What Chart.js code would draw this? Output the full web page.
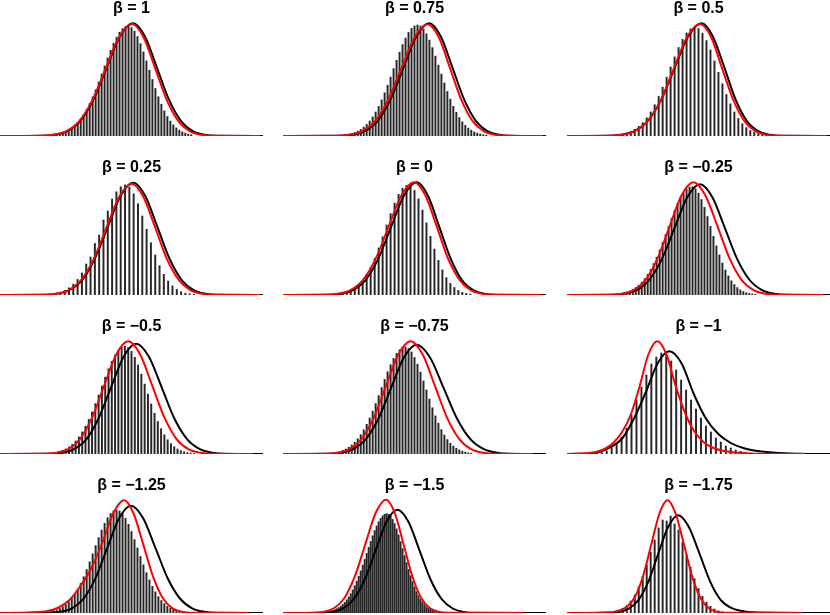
<!DOCTYPE html>
<html>
<head>
<meta charset="utf-8">
<script src="https://cdn.jsdelivr.net/npm/chart.js@4.4.1/dist/chart.umd.min.js"></script>
<style>
  html, body { margin: 0; padding: 0; background: #fff; }
  body { width: 830px; height: 615px; position: relative; overflow: hidden; }
  .panel { position: absolute; width: 263px; height: 139px; }
</style>
</head>
<body>
<script>
// one panel per beta, read row by row
const betaLabels = ['β = 1', 'β = 0.75', 'β = 0.5', 'β = 0.25', 'β = 0', 'β = −0.25',
  'β = −0.5', 'β = −0.75', 'β = −1', 'β = −1.25', 'β = −1.5', 'β = −1.75'];

// upper end of the count axis in each panel
const xMax = [88, 88, 66, 61, 66, 88, 80, 88, 53, 88, 132, 66];

// first count that has a bar, then the bar heights
const barFirst = [18, 20, 12, 11, 13, 16, 15, 15, 6, 15, 20, 11];
const barHeights = [
  [1.1, 1.6, 2.3, 3.2, 4.4, 6.0, 7.9, 10.4, 13.5, 17.2, 21.6, 26.7, 32.5, 39.1, 46.2, 53.9, 61.8, 70.0, 78.0, 85.7, 92.7, 98.8, 103.8, 107.3, 109.5, 110, 108.4, 104.8, 99.4, 92.3, 84.1, 75.1, 65.8, 56.5, 47.5, 39.2, 31.7, 25.1, 19.5, 14.9, 11.1, 8.1, 5.8, 4.1, 2.8, 1.9, 1.3],
  [0.8, 1.2, 1.8, 2.5, 3.5, 4.9, 6.6, 8.9, 11.6, 15.0, 19.1, 24.0, 29.6, 36.1, 43.2, 50.8, 58.9, 67.4, 75.7, 83.8, 91.4, 97.9, 103.5, 107.6, 110.1, 111, 110.0, 107.0, 102.2, 95.9, 88.4, 79.9, 70.9, 61.9, 53.0, 44.5, 36.8, 29.7, 23.7, 18.5, 14.2, 10.7, 7.9, 5.8, 4.1, 2.9, 2.0, 1.3, 0.9],
  [0.8, 1.3, 2.0, 3.1, 4.6, 6.7, 9.6, 13.4, 18.2, 24.1, 31.3, 39.6, 48.8, 58.8, 69.0, 79.1, 88.5, 96.6, 103.1, 107.1, 108.7, 107.4, 102.8, 95.4, 86.0, 75.1, 63.6, 52.2, 41.5, 32.2, 24.0, 17.5, 12.3, 8.4, 5.5, 3.6, 2.2, 1.3, 0.8],
  [0.6, 1.0, 1.8, 2.9, 4.7, 7.2, 10.8, 15.6, 22.0, 31.0, 38.0, 51.5, 60.0, 75.0, 84.0, 96.0, 103.2, 108.2, 110, 107.8, 101.2, 91.3, 79.0, 65.7, 52.3, 40.0, 29.3, 20.6, 13.9, 9.1, 5.6, 3.3, 1.9, 1.1, 0.6],
  [0.6, 1.0, 1.7, 2.7, 4.4, 6.7, 10.1, 14.6, 20.5, 27.8, 36.7, 47.0, 58.2, 70.0, 81.4, 91.9, 100.6, 106.7, 109.7, 109.2, 104.5, 96.1, 84.9, 72.1, 58.7, 46.0, 34.7, 25.1, 17.4, 11.6, 7.5, 4.6, 2.7, 1.6, 0.8],
  [0.7, 1.0, 1.4, 2.1, 2.9, 4.0, 5.5, 7.4, 9.8, 12.8, 16.3, 20.6, 25.6, 31.4, 37.8, 45.0, 52.6, 60.5, 68.7, 76.7, 84.4, 91.4, 97.5, 102.4, 105.9, 107.9, 108.2, 106.2, 101.9, 95.5, 87.6, 78.4, 68.6, 58.7, 49.1, 40.1, 32.0, 25.0, 19.1, 14.2, 10.4, 7.4, 5.1, 3.5, 2.3, 1.5, 1.0, 0.6],
  [0.8, 1.1, 1.7, 2.5, 3.6, 5.1, 7.1, 9.7, 13.0, 17.1, 22.1, 27.9, 34.6, 42.1, 50.4, 59.1, 68.0, 76.8, 85.2, 92.7, 99.0, 103.7, 106.7, 107.7, 106.4, 102.6, 96.7, 89.0, 79.8, 69.9, 59.9, 50.1, 40.8, 32.5, 25.3, 19.2, 14.2, 10.3, 7.3, 5.0, 3.4, 2.2, 1.4, 0.9, 0.5],
  [0.6, 0.9, 1.3, 1.8, 2.6, 3.6, 5.0, 6.8, 9.0, 11.8, 15.2, 19.4, 24.2, 29.7, 36.1, 43.0, 50.5, 58.4, 66.5, 74.6, 82.3, 89.3, 95.6, 100.7, 104.3, 106.5, 107.0, 105.5, 102.0, 96.6, 89.8, 81.9, 73.1, 64.0, 54.9, 46.2, 38.1, 30.8, 24.4, 19.0, 14.4, 10.8, 7.9, 5.7, 4.0, 2.8, 1.9, 1.2, 0.8],
  [0.5, 1.5, 3, 6, 11, 17, 26, 39, 54, 67, 79, 90, 97, 101, 99, 93, 84, 74, 64, 54, 45, 36, 28, 22, 16, 12, 8, 6, 4, 2.7, 1.8, 1.1, 0.6],
  [0.7, 1.0, 1.5, 2.3, 3.2, 4.5, 6.3, 8.4, 11.2, 14.6, 18.8, 23.8, 29.6, 36.2, 43.4, 51.1, 59.2, 67.4, 75.4, 82.9, 89.7, 95.3, 99.5, 102.1, 103, 102.0, 99.2, 94.7, 88.7, 81.5, 73.4, 65.1, 56.5, 48.2, 40.3, 33.1, 26.7, 21.1, 16.4, 12.5, 9.3, 6.8, 4.9, 3.5, 2.4, 1.6, 1.1, 0.7],
  [0.6, 0.8, 1.1, 1.4, 1.9, 2.5, 3.3, 4.3, 5.4, 6.9, 8.6, 10.7, 13.1, 16.0, 19.3, 23.0, 27.2, 31.8, 36.7, 42.1, 47.8, 53.6, 59.6, 65.6, 71.5, 77.2, 82.4, 87.2, 91.3, 94.6, 97.1, 98.7, 99.3, 98.7, 96.8, 93.7, 89.4, 84.1, 78.1, 71.4, 64.4, 57.4, 50.4, 43.6, 37.3, 31.4, 26.1, 21.4, 17.3, 13.7, 10.8, 8.4, 6.4, 4.8, 3.6, 2.6, 1.9, 1.4, 1.0, 0.7],
  [0.7, 1.4, 2.5, 4.4, 7.5, 11.9, 18.1, 26.3, 36.5, 48.2, 60.8, 73.1, 85, 93, 92, 97, 89, 83, 70.6, 58.2, 45.8, 34.3, 24.5, 16.7, 10.9, 6.7, 4.0, 2.2, 1.2, 0.6]
];

// black curve
const blackX = [
  [0, 13.7, 18.1, 22.5, 26.9, 31.3, 35.7, 40.1, 44.5, 48.5, 52.5, 56.5, 60.5, 64.5, 68.5, 72.5, 88],
  [0, 18.8, 23.1, 27.4, 31.7, 36.0, 40.3, 44.6, 48.9, 52.8, 56.7, 60.6, 64.5, 68.4, 72.3, 76.2, 88],
  [0, 10.2, 13.55, 16.9, 20.3, 23.7, 27.05, 30.4, 33.8, 36.6, 39.5, 42.3, 45.1, 48.0, 50.8, 53.6, 66],
  [0, 10.2, 13.2, 16.1, 19.1, 22.0, 25.0, 27.95, 30.9, 33.7, 36.5, 39.3, 42.1, 44.9, 47.7, 50.5, 61],
  [0, 11.15, 14.35, 17.55, 20.75, 23.95, 27.15, 30.35, 33.55, 36.35, 39.2, 42.05, 44.85, 47.75, 50.55, 53.35, 66],
  [0, 14.75, 19.0, 23.25, 27.5, 31.75, 36.0, 40.25, 44.5, 48.65, 52.8, 56.95, 61.1, 65.25, 69.4, 73.55, 88],
  [0, 14.9, 18.7, 22.5, 26.3, 30.0, 33.8, 37.6, 41.4, 45.3, 49.15, 53.0, 56.9, 60.8, 64.65, 68.5, 80],
  [0, 14.95, 19.2, 23.45, 27.7, 31.95, 36.2, 40.45, 44.7, 49.2, 53.7, 58.2, 62.7, 67.2, 71.7, 76.2, 88],
  [0, 4.15, 6.5, 8.85, 11.2, 13.55, 15.9, 18.25, 20.6, 23.1, 25.55, 28.05, 30.5, 33.0, 35.5, 38.0, 42, 47, 53],
  [0, 16.15, 20.1, 24.05, 28.0, 31.95, 35.9, 39.85, 43.8, 47.9, 52.0, 56.1, 60.2, 64.3, 68.4, 72.5, 88],
  [0, 19.25, 24.7, 30.15, 35.6, 41.05, 46.5, 51.95, 57.4, 62.95, 68.5, 74.05, 79.6, 85.15, 90.7, 96.25, 132],
  [0, 10.5, 13.0, 15.5, 17.95, 20.45, 22.9, 25.4, 27.9, 30.55, 33.25, 35.9, 38.55, 41.2, 43.9, 46.55, 66]
];
const blackY = [
  [0, 0.2, 1.3, 4.9, 15.2, 36.6, 68.4, 99.5, 112.7, 99.5, 68.4, 36.6, 15.2, 4.9, 1.3, 0.2, 0],
  [0, 0.2, 1.3, 4.9, 15.2, 36.6, 68.4, 99.5, 112.7, 99.5, 68.4, 36.6, 15.2, 4.9, 1.3, 0.2, 0],
  [0, 0.2, 1.3, 4.9, 15.2, 36.6, 68.4, 99.5, 112.7, 99.5, 68.4, 36.6, 15.2, 4.9, 1.3, 0.2, 0],
  [0, 0.2, 1.2, 4.9, 15.2, 36.5, 68.1, 99.1, 112.3, 99.1, 68.1, 36.5, 15.2, 4.9, 1.2, 0.2, 0],
  [0, 0.2, 1.3, 4.9, 15.2, 36.6, 68.4, 99.5, 112.7, 99.5, 68.4, 36.6, 15.2, 4.9, 1.3, 0.2, 0],
  [0, 0.2, 1.2, 4.9, 15.0, 35.9, 67.1, 97.7, 110.7, 97.7, 67.1, 35.9, 15.0, 4.9, 1.2, 0.2, 0],
  [0, 0.2, 1.2, 4.8, 14.9, 35.8, 66.9, 97.3, 110.3, 97.3, 66.9, 35.8, 14.9, 4.8, 1.2, 0.2, 0],
  [0, 0.2, 1.2, 4.8, 14.8, 35.5, 66.3, 96.5, 109.3, 96.5, 66.3, 35.5, 14.8, 4.8, 1.2, 0.2, 0],
  [0, 0.6, 2.0, 7.0, 16, 36, 62, 90.6, 102.7, 90.6, 60, 35, 20, 11, 6, 3.2, 1.2, 0.3, 0],
  [0, 0.2, 1.2, 4.7, 14.5, 34.8, 65.1, 94.7, 107.3, 94.7, 65.1, 34.8, 14.5, 4.7, 1.2, 0.2, 0],
  [0, 0.2, 1.1, 4.5, 14.0, 33.5, 62.7, 91.2, 103.3, 91.2, 62.7, 33.5, 14.0, 4.5, 1.1, 0.2, 0],
  [0, 0.2, 1.1, 4.3, 13.2, 31.7, 59.3, 86.2, 97.7, 86.2, 59.3, 31.7, 13.2, 5.2, 2.0, 0.7, 0]
];

// red curve
const redX = [
  [0, 13.4, 17.8, 22.2, 26.6, 31.0, 35.4, 39.8, 44.2, 48.05, 51.9, 55.75, 59.6, 63.45, 67.3, 71.15, 87],
  [0, 17.6, 22.0, 26.4, 30.8, 35.2, 39.6, 44.0, 48.4, 52.15, 55.9, 59.65, 63.4, 67.15, 70.9, 74.65, 87],
  [0, 10.5, 13.75, 17.0, 20.3, 23.6, 26.85, 30.1, 33.4, 36.2, 38.9, 41.7, 44.5, 47.25, 50.0, 52.8, 65.2],
  [0, 10.05, 13.0, 15.95, 18.85, 21.75, 24.7, 27.65, 30.55, 33.25, 36.0, 38.7, 41.45, 44.15, 46.85, 49.55, 60.3],
  [0, 10.5, 13.7, 16.9, 20.1, 23.3, 26.5, 29.7, 32.9, 35.75, 38.6, 41.4, 44.3, 47.1, 50.0, 52.8, 64.9],
  [0, 14.3, 18.3, 22.3, 26.3, 30.3, 34.3, 38.3, 42.3, 46.3, 50.4, 54.4, 58.4, 62.5, 66.5, 70.5, 85.7],
  [0, 13.45, 17.1, 20.75, 24.4, 28.05, 31.7, 35.35, 39.0, 42.65, 46.3, 50.0, 53.65, 57.3, 61.0, 64.65, 77],
  [0, 14.0, 18.1, 22.2, 26.3, 30.4, 34.5, 38.6, 42.7, 46.75, 50.8, 54.85, 58.9, 62.95, 67.0, 71.05, 83.6],
  [0, 3, 5.8, 7.55, 9.3, 11.1, 12.9, 14.65, 16.4, 18.2, 20.05, 21.9, 23.8, 25.6, 27.5, 29.3, 31.2, 35, 40, 48],
  [0, 10, 15.95, 19.6, 23.25, 26.9, 30.55, 34.2, 37.85, 41.5, 44.7, 47.95, 51.2, 54.4, 57.6, 60.85, 64.1, 83],
  [0, 15.3, 20.5, 25.7, 30.9, 36.1, 41.3, 46.5, 51.7, 56.1, 60.5, 64.9, 69.3, 73.7, 78.1, 82.5, 120.5],
  [0, 11.0, 13.05, 15.1, 17.1, 19.1, 21.15, 23.2, 25.2, 27.25, 29.35, 31.4, 33.45, 35.5, 37.6, 39.65, 58.9]
];
const redY = [
  [0, 0.2, 1.2, 4.9, 15.2, 36.4, 67.9, 98.8, 112, 98.8, 67.9, 36.4, 15.2, 4.9, 1.2, 0.2, 0],
  [0, 0.2, 1.2, 4.9, 15.1, 36.3, 67.7, 98.6, 111.7, 98.6, 67.7, 36.3, 15.1, 4.9, 1.2, 0.2, 0],
  [0, 0.2, 1.2, 4.9, 15.2, 36.4, 67.9, 98.8, 112, 98.8, 67.9, 36.4, 15.2, 4.9, 1.2, 0.2, 0],
  [0, 0.2, 1.2, 4.9, 15.1, 36.1, 67.5, 98.2, 111.3, 98.2, 67.5, 36.1, 15.1, 4.9, 1.2, 0.2, 0],
  [0, 0.2, 1.3, 4.9, 15.2, 36.6, 68.4, 99.5, 112.7, 99.5, 68.4, 36.6, 15.2, 4.9, 1.3, 0.2, 0],
  [0, 0.2, 1.3, 4.9, 15.2, 36.6, 68.4, 99.5, 112.7, 99.5, 68.4, 36.6, 15.2, 4.9, 1.3, 0.2, 0],
  [0, 0.2, 1.3, 4.9, 15.2, 36.6, 68.4, 99.5, 112.7, 99.5, 68.4, 36.6, 15.2, 4.9, 1.3, 0.2, 0],
  [0, 0.2, 1.3, 4.9, 15.2, 36.6, 68.4, 99.5, 112.7, 99.5, 68.4, 36.6, 15.2, 4.9, 1.3, 0.2, 0],
  [0, 0.4, 2, 5, 11, 22, 40, 68, 99.5, 112.7, 99.5, 68, 41, 23, 12, 6.5, 3.5, 1.0, 0.2, 0],
  [0, 0.5, 2, 5.5, 13, 27, 45, 70, 99.5, 112.7, 99.5, 68.4, 36.6, 15.2, 4.9, 1.3, 0.2, 0],
  [0, 0.2, 1.3, 5.0, 15.3, 36.8, 68.7, 100.0, 113.3, 100.0, 68.7, 36.8, 15.3, 5.0, 1.3, 0.2, 0],
  [0, 0.8, 2.5, 6.5, 16.5, 37, 68.4, 99.5, 112.7, 99.5, 68.4, 36.6, 15.2, 4.9, 1.3, 0.2, 0]
];

const colLeft = [0, 283, 567];
const rowTop = [-1, 158, 317, 476];

function toPoints(xs, ys) {
  return xs.map((x, i) => ({ x: x, y: ys[i] }));
}

betaLabels.forEach((label, p) => {
  const box = document.createElement('div');
  box.className = 'panel';
  box.style.left = colLeft[p % 3] + 'px';
  box.style.top = rowTop[Math.floor(p / 3)] + 'px';
  const canvas = document.createElement('canvas');
  canvas.width = 263;
  canvas.height = 139;
  box.appendChild(canvas);
  document.body.appendChild(box);

  const bars = barHeights[p].map((h, i) => ({ x: barFirst[p] + i, y: h }));

  new Chart(canvas, {
    type: 'bar',
    data: {
      datasets: [
        {
          type: 'line',
          data: toPoints(redX[p], redY[p]),
          borderColor: '#ff0000',
          borderWidth: 2,
          pointRadius: 0,
          cubicInterpolationMode: 'monotone',
          order: 1
        },
        {
          type: 'line',
          data: toPoints(blackX[p], blackY[p]),
          borderColor: '#000000',
          borderWidth: 2,
          pointRadius: 0,
          cubicInterpolationMode: 'monotone',
          order: 2
        },
        {
          type: 'bar',
          data: bars,
          backgroundColor: '#262626',
          barThickness: 1.3,
          order: 3
        }
      ]
    },
    options: {
      responsive: false,
      animation: false,
      events: [],
      layout: { padding: { left: 0, right: 0, top: 0, bottom: 2 } },
      plugins: {
        legend: { display: false },
        tooltip: { enabled: false },
        title: {
          display: true,
          text: label,
          color: '#000',
          font: { family: '"Liberation Sans", Arial, sans-serif', size: 16, weight: 'bold', lineHeight: 1.25 },
          padding: { top: 0, bottom: 1 }
        }
      },
      scales: {
        x: { type: 'linear', min: 0, max: xMax[p], offset: false, display: false },
        y: { min: 0, max: 116, display: false }
      }
    }
  });
});
</script>
</body>
</html>
